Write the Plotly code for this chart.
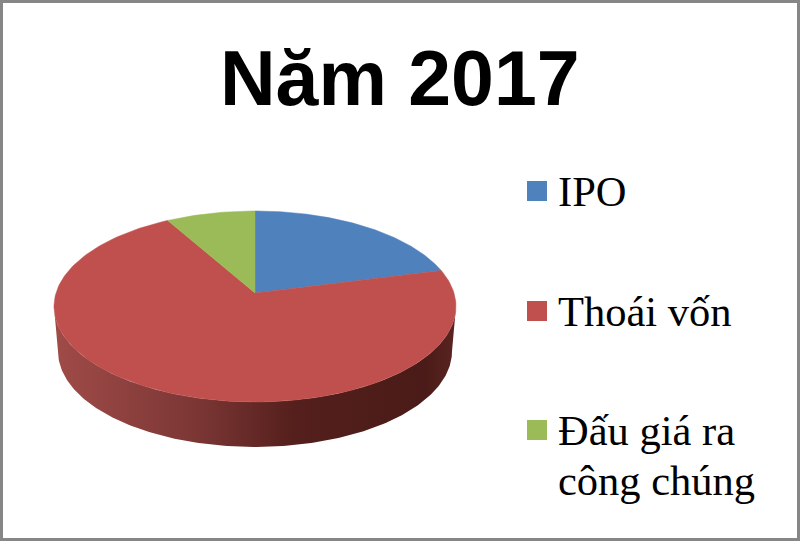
import numpy
import plotly.graph_objects as go

title = 'Năm 2017'
labels = ['IPO', 'Thoái vốn', 'Đấu giá ra<br>công chúng']
values = [21, 70.8, 8.2]
colors = ['#4f81bd', '#c0504d', '#9bbb59']
side_scale = [[0, '#a04b48'], [.35, '#7c3735'], [.6, '#541f1c'], [.92, '#4a1b18'], [1, '#5a2421']]

# Pixel geometry of the tilted disc (axes run in page pixels):
apex_x, apex_y = 255, 293
radius, near, tilt = 199, 93.6, .141
depth = 45

def rim(angle):
	w = 1 + tilt*numpy.cos(angle)
	return apex_x + radius*numpy.sin(angle)/w, apex_y - near*numpy.cos(angle)/w

def slice_outline(start, stop):
	angles = numpy.linspace(start, stop, 200)
	x, y = rim(angles)
	return [apex_x, *x, apex_x], [apex_y, *y, apex_y]

fig = go.Figure()

# Side wall of the disc, between the two widest points of the rim:
turn = numpy.arccos(-tilt)
front = numpy.linspace(turn, 2*numpy.pi - turn, 200)
top_x, top_y = rim(front)
mid_x = top_x.mean()
bottom_x = mid_x + (top_x - mid_x)*.98
bottom_y = top_y + depth
fig.add_trace(go.Scatter(
	x = [*top_x, *bottom_x[::-1]],
	y = [*top_y, *bottom_y[::-1]],
	mode = 'lines',
	line = dict(width=0),
	fill = 'toself',
	fillgradient = dict(type='horizontal', colorscale=side_scale),
	hoverinfo = 'skip',
))

# Top of the disc, one slice per value, clockwise from twelve o'clock:
edges = 2*numpy.pi*numpy.cumsum([0, *values])/sum(values)
for i,name in enumerate(labels):
	x, y = slice_outline(edges[i], edges[i+1])
	fig.add_trace(go.Scatter(
		x = x,
		y = y,
		mode = 'lines',
		line = dict(width=.5, color=colors[i]),
		fill = 'toself',
		fillcolor = colors[i],
		name = name,
		hoverinfo = 'name',
	))

# Legend, placed by hand because of its wide spacing:
legend_y = [191, 311, 430]
line_gap = 50
fig.add_trace(go.Scatter(
	x = [537]*len(labels),
	y = legend_y,
	mode = 'markers',
	marker = dict(symbol='square', size=20, color=colors),
	hoverinfo = 'skip',
))
for label,y in zip(labels, legend_y):
	for j,line in enumerate(label.split('<br>')):
		fig.add_annotation(
			x = 556,
			y = y + j*line_gap,
			text = line,
			xanchor = 'left',
			showarrow = False,
			font = dict(family='Liberation Serif', size=42.5, color='#000000'),
		)

fig.add_annotation(
	x = 400,
	y = 78,
	text = f'<b>{title}</b>',
	showarrow = False,
	font = dict(family='Liberation Sans', size=77, color='#000000'),
)

fig.add_shape(
	type = 'rect',
	xref = 'paper',
	yref = 'paper',
	x0 = 0,
	y0 = 0,
	x1 = 1,
	y1 = 1,
	line = dict(color='#868686', width=6),
)

fig.update_xaxes(visible=False, range=[0, 800])
fig.update_yaxes(visible=False, range=[541, 0])
fig.update_layout(
	width = 800,
	height = 541,
	margin = dict(l=0, r=0, t=0, b=0),
	paper_bgcolor = '#ffffff',
	plot_bgcolor = '#ffffff',
	showlegend = False,
)
# The page's default body margin would push the figure out of the window:
fig.write_html(
	'out.html',
	config = dict(displayModeBar=False),
	post_script = "document.body.style.margin = '0';",
)
